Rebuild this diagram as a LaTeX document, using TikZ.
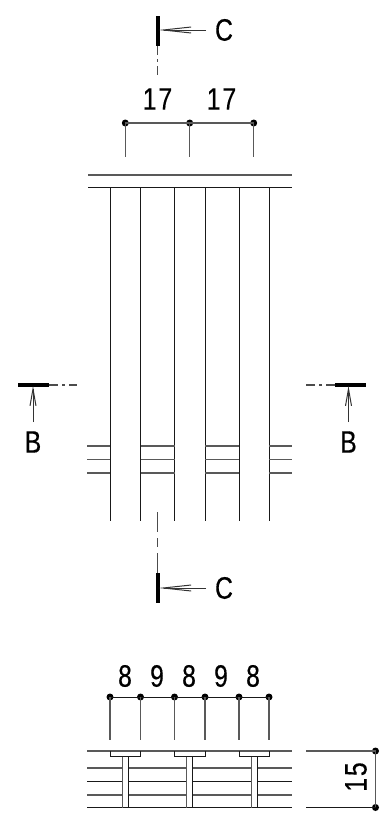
\documentclass[tikz,border=0pt]{standalone}
\usepackage{fontspec}
\setmainfont[FakeStretch=0.8,FakeBold=0.4,LetterSpace=6]{Liberation Sans}
\usetikzlibrary{arrows.meta}
\tikzstyle{every node}=[font=\fontsize{31}{32}\selectfont,inner sep=0pt]
\begin{document}
\begin{tikzpicture}[
            x=1pt,y=-1pt,
            line width=1pt,
            line/.style={black!90},
            thin line/.style={black!65,line width=1.2pt},
            cutbar/.style={line width=4pt,black},
            cutline/.style={black!70,line width=1.1pt,dash pattern=on 9pt off 4pt on 3pt off 4pt on 10pt off 20pt},
            cutarrow/.style={black!80,-{Straight Barb[length=17pt,width=6pt]}},
            longarrow/.style={black!80,-{Straight Barb[length=28pt,width=6pt]}},
            dimdot/.style={circle,fill=black,minimum size=7pt}]
        \useasboundingbox (0,0) rectangle (382,822);
        % top view, slats and rails
        \draw[thin line] (88,175) -- (292,175);
        \draw[line] (88,187) -- (292,187);
        \foreach \x in {110,140.5,174.5,205,239,269}
            \draw[line] (\x,187) -- (\x,521);
        \foreach \y in {446,459.5,473} {
            \draw[thin line] (87,\y) -- (110,\y);
            \draw[thin line] (140.5,\y) -- (174.5,\y);
            \draw[thin line] (205,\y) -- (239,\y);
            \draw[thin line] (269,\y) -- (292,\y);
        }
        % section marks
        \node (labelCtop) at (224,30) {C};
        \node (labelCbot) at (224,588) {C};
        \node (labelBleft) at (33,442) {B};
        \node (labelBright) at (348.5,442) {B};
        \draw[cutbar] (157.5,16) -- (157.5,46);
        \draw[cutline] (157.5,46) -- (157.5,75);
        \draw[longarrow] (206,30) -- (158.5,30);
        \draw[cutbar] (157.5,573) -- (157.5,603);
        \draw[cutline,dash pattern=on 20pt off 6pt on 9pt off 6pt on 20pt] (157.5,512) -- (157.5,573);
        \draw[longarrow] (206,588) -- (158.5,588);
        \draw[cutbar] (18,385) -- (49,385);
        \draw[cutline] (49,385) -- (77,385);
        \draw[cutarrow] (33,422) -- (33,386);
        \draw[cutbar] (335,385) -- (366,385);
        \draw[cutline] (335,385) -- (306,385);
        \draw[cutarrow] (348.5,422) -- (348.5,386);
        % dimension 17 17
        \node[dimdot] (a1) at (125.3,123) {};
        \node[dimdot] (a2) at (189.7,123) {};
        \node[dimdot] (a3) at (253.7,123) {};
        \draw[thin line] (a1.center) -- (a2.center) -- (a3.center);
        \foreach \n in {a1,a2,a3}
            \draw[thin line] (\n.center) -- ++(0,34);
        \node (t1) at (157.5,99) {17};
        \node (t2) at (221.5,99) {17};
        % dimension 8 9 8 9 8
        \node[dimdot] (b1) at (110,697) {};
        \node[dimdot] (b2) at (140.5,697) {};
        \node[dimdot] (b3) at (174.5,697) {};
        \node[dimdot] (b4) at (205,697) {};
        \node[dimdot] (b5) at (239,697) {};
        \node[dimdot] (b6) at (269,697) {};
        \draw[line] (b1.center) -- (b6.center);
        \foreach \n in {b1,b2,b3,b4,b5,b6}
            \draw[thin line] (\n.center) -- ++(0,43);
        \foreach \x/\t in {125/8,157/9,189/8,221/9,253/8}
            \node (n\x) at (\x,676) {\t};
        % bottom section, rails then flanged slats on top
        \draw[thin line] (87,751) -- (292,751);
        \draw[thin line] (87,768) -- (292,768);
        \draw[line] (87,781.5) -- (292,781.5);
        \draw[thin line] (87,795) -- (292,795);
        \draw[line] (87,807.5) -- (292,807.5);
        \foreach \x in {110,174.5,239} {
            \fill[white] (\x+12.5,757) rectangle (\x+18.5,807);
            \draw[line] (\x,751) -- (\x,756.5) -- (\x+30.5,756.5) -- (\x+30.5,751);
            \draw[thin line] (\x+12.3,756.5) -- (\x+12.3,807.5);
            \draw[line] (\x+18.2,756.5) -- (\x+18.2,807.5);
        }
        % dimension 15
        \node[dimdot] (c1) at (375.5,751) {};
        \node[dimdot] (c2) at (375.5,807.5) {};
        \draw[thin line] (c1.center) -- (c2.center);
        \draw[thin line] (306,751) -- (c1.center);
        \draw[line] (306,807.5) -- (c2.center);
        \node[rotate=90] (t3) at (356,777) {15};
\end{tikzpicture}
\end{document}
